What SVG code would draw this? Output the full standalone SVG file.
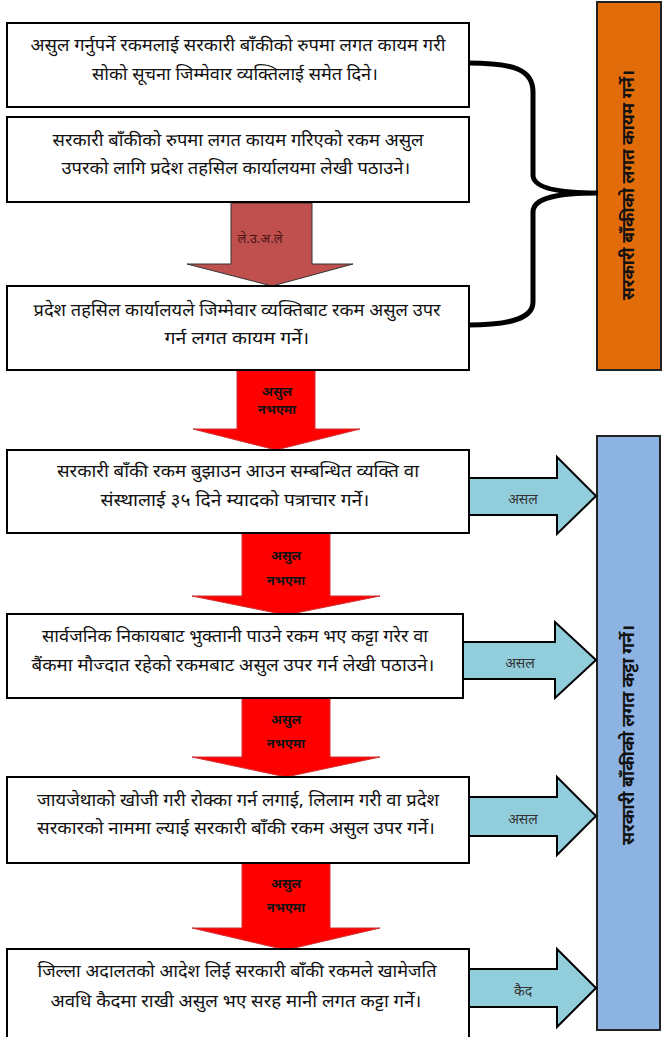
<svg xmlns="http://www.w3.org/2000/svg" width="662" height="1037" viewBox="0 0 662 1037">
<style>
.box{fill:#fff;stroke:#000;stroke-width:2}
.t{font-family:"Noto Sans Devanagari","Lohit Devanagari","Noto Sans","DejaVu Sans",sans-serif;font-size:17px;fill:#111;text-anchor:middle;dominant-baseline:central}
.side{font-family:"Noto Sans Devanagari","Lohit Devanagari","Noto Sans","DejaVu Sans",sans-serif;font-size:17px;font-weight:bold;fill:#111;text-anchor:middle;dominant-baseline:central}
.red{fill:#FF0000;stroke:#D03030;stroke-width:1}
.rl{font-family:"Noto Sans Devanagari","Lohit Devanagari","Noto Sans","DejaVu Sans",sans-serif;font-size:13px;font-weight:bold;fill:#111;text-anchor:middle;dominant-baseline:central}
.ba{fill:#92CDDC;stroke:#000;stroke-width:2}
.bl{font-family:"Noto Sans Devanagari","Lohit Devanagari","Noto Sans","DejaVu Sans",sans-serif;font-size:14px;fill:#333;text-anchor:middle;dominant-baseline:central}
</style>
<g id="orange-panel">
<rect x="597" y="2" width="64" height="368" fill="#E36C0A" stroke="#222" stroke-width="2"/>
<text class="side" transform="translate(630,185) rotate(-90)" textLength="230" lengthAdjust="spacingAndGlyphs">सरकारी बाँकीको लगत कायम गर्ने।</text>
</g>
<g id="blue-panel">
<rect x="597" y="436" width="63" height="594" fill="#8DB3E2" stroke="#222" stroke-width="2"/>
<text class="side" transform="translate(630,735) rotate(-90)" textLength="220" lengthAdjust="spacingAndGlyphs">सरकारी बाँकीको लगत कट्टा गर्ने।</text>
</g>
<g id="connectors">
<path d="M468,63 C515,63 533,70 533,92 V175 C533,188 558,193 598,193 C558,193 533,198 533,212 V302 C533,318 512,325 468,325" fill="none" stroke="#000" stroke-width="5"/>
<path d="M231,203 H312 V264 H353 L272,286 L187,264 H231 Z" fill="#C0504D" stroke="#333" stroke-width="1"/>
<text x="260" y="239" font-family="'Noto Sans Devanagari','Lohit Devanagari','Noto Sans',sans-serif" font-size="13" fill="#4a1515" text-anchor="middle" dominant-baseline="central">ले.उ.अ.ले</text>
<path class="red" d="M237,370 H315 V429 H360 L276,450 L193,429 H237 Z"/>
<text class="rl" x="277" y="392" font-size="11">असुल</text>
<text class="rl" x="277" y="410" font-size="11">नभएमा</text>
<path class="red" d="M242,533 H330 V596 H380 L286,615 L192,596 H242 Z"/>
<text class="rl" x="286" y="556">असुल</text>
<text class="rl" x="286" y="581">नभएमा</text>
<path class="red" d="M242,698 H330 V757 H380 L286,777 L192,757 H242 Z"/>
<text class="rl" x="286" y="720">असुल</text>
<text class="rl" x="286" y="744">नभएमा</text>
<path class="red" d="M242,863 H330 V928 H380 L286,950 L192,928 H242 Z"/>
<text class="rl" x="286" y="884">असुल</text>
<text class="rl" x="286" y="908">नभएमा</text>
<path class="ba" d="M468,478 H557 V457 L596,496 L557,534 V515 H468 Z"/>
<text class="bl" x="523" y="500">असल</text>
<path class="ba" d="M463,642 H555 V622 L596,660 L555,698 V679 H463 Z"/>
<text class="bl" x="520" y="664">असल</text>
<path class="ba" d="M468,797 H557 V777 L596,816 L557,855 V836 H468 Z"/>
<text class="bl" x="523" y="820">असल</text>
<path class="ba" d="M468,969 H557 V949 L596,988 L557,1027 V1007 H468 Z"/>
<text class="bl" x="523" y="992">कैद</text>
</g>
<g id="box1">
<rect class="box" x="7" y="23" width="462" height="84"/>
<text class="t" x="238" y="47" textLength="415" lengthAdjust="spacingAndGlyphs">असुल गर्नुपर्ने रकमलाई सरकारी बाँकीको रुपमा लगत कायम गरी</text>
<text class="t" x="235" y="76" textLength="286" lengthAdjust="spacingAndGlyphs">सोको सूचना जिम्मेवार व्यक्तिलाई समेत दिने।</text>
</g>
<g id="box2">
<rect class="box" x="7" y="117" width="462" height="85"/>
<text class="t" x="238" y="142" textLength="371" lengthAdjust="spacingAndGlyphs">सरकारी बाँकीको रुपमा लगत कायम गरिएको रकम असुल</text>
<text class="t" x="236" y="170" textLength="349" lengthAdjust="spacingAndGlyphs">उपरको लागि प्रदेश तहसिल कार्यालयमा लेखी पठाउने।</text>
</g>
<g id="box3">
<rect class="box" x="7" y="286" width="462" height="84"/>
<text class="t" x="237" y="312" textLength="407" lengthAdjust="spacingAndGlyphs">प्रदेश तहसिल कार्यालयले जिम्मेवार व्यक्तिबाट रकम असुल उपर</text>
<text class="t" x="237" y="340" textLength="145" lengthAdjust="spacingAndGlyphs">गर्न लगत कायम गर्ने।</text>
</g>
<g id="box4">
<rect class="box" x="7" y="450" width="462" height="83"/>
<text class="t" x="238" y="473" textLength="362" lengthAdjust="spacingAndGlyphs">सरकारी बाँकी रकम बुझाउन आउन सम्बन्धित व्यक्ति वा</text>
<text class="t" x="235" y="502" textLength="269" lengthAdjust="spacingAndGlyphs">संस्थालाई ३५ दिने म्यादको पत्राचार गर्ने।</text>
</g>
<g id="box5">
<rect class="box" x="7" y="614" width="456" height="84"/>
<text class="t" x="235" y="638" textLength="386" lengthAdjust="spacingAndGlyphs">सार्वजनिक निकायबाट भुक्तानी पाउने रकम भए कट्टा गरेर वा</text>
<text class="t" x="233" y="667" textLength="403" lengthAdjust="spacingAndGlyphs">बैंकमा मौज्दात रहेको रकमबाट असुल उपर गर्न लेखी पठाउने।</text>
</g>
<g id="box6">
<rect class="box" x="7" y="777" width="462" height="86"/>
<text class="t" x="238" y="802" textLength="402" lengthAdjust="spacingAndGlyphs">जायजेथाको खोजी गरी रोक्का गर्न लगाई, लिलाम गरी वा प्रदेश</text>
<text class="t" x="236" y="830" textLength="398" lengthAdjust="spacingAndGlyphs">सरकारको नाममा ल्याई सरकारी बाँकी रकम असुल उपर गर्ने।</text>
</g>
<g id="box7">
<rect class="box" x="7" y="949" width="462" height="95"/>
<text class="t" x="237" y="973" textLength="399" lengthAdjust="spacingAndGlyphs">जिल्ला अदालतको आदेश लिई सरकारी बाँकी रकमले खामेजति</text>
<text class="t" x="236" y="1003" textLength="371" lengthAdjust="spacingAndGlyphs">अवधि कैदमा राखी असुल भए सरह मानी लगत कट्टा गर्ने।</text>
</g>
</svg>
